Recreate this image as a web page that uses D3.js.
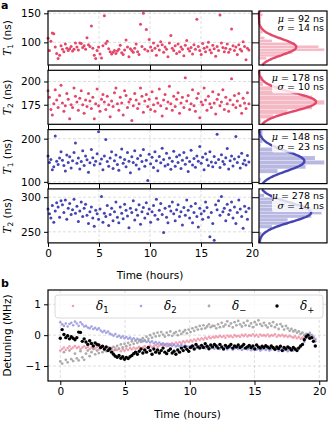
<!DOCTYPE html>
<html>
<head>
<meta charset="utf-8">
<script src="https://cdn.jsdelivr.net/npm/d3@7"></script>
<style>
  body { margin: 0; background: #fff; }
  svg { display: block; font-family: "DejaVu Sans", sans-serif; }
  .math { font-family: "DejaVu Serif", serif; font-style: italic; }
</style>
</head>
<body>
<div id="chart"></div>
<script>
// measurement every ~8.5 minutes, 140 samples
const sampleStepHours = 0.1417;

// panel a: coherence times (ns)
const t1Red = [107,86,102,116,115,92,81,72,78,94,88,84,97,90,86,89,93,85,88,99,
  92,87,99,98,91,94,88,108,96,93,128,90,78,72,86,92,80,73,94,146,
  98,102,89,84,80,83,86,81,85,88,95,82,79,87,104,92,75,89,86,83,
  90,97,84,79,131,93,150,88,122,85,105,92,86,99,90,78,94,87,101,96,
  83,92,88,75,99,112,90,86,94,81,97,84,92,88,77,95,103,89,85,91,
  80,96,88,140,93,86,79,98,90,84,92,100,87,82,95,89,76,93,86,147,
  99,91,84,90,97,83,88,123,94,86,92,79,96,88,85,101,93,70,90,87];
const t2Red = [190,183,170,164,176,191,180,172,185,196,177,168,174,187,181,160,175,172,193,184,
  178,169,182,190,175,166,180,173,187,179,171,183,160,176,192,174,168,181,186,178,
  170,184,175,162,179,173,188,193,176,169,183,177,164,190,185,172,178,181,158,174,
  187,180,171,176,193,184,167,179,186,173,181,170,189,175,168,182,177,192,174,163,
  180,186,171,178,195,176,169,184,173,181,188,166,177,183,172,204,179,185,170,176,
  191,174,168,182,187,161,178,175,193,180,169,184,176,172,189,177,165,181,186,174,
  178,191,170,183,176,168,180,203,175,185,172,179,187,174,166,182,177,171,188,176];
const t1Blue = [160,145,152,128,135,206,148,140,155,170,150,138,125,162,145,158,132,149,168,190,
  143,155,130,147,172,138,160,151,122,144,175,156,139,148,165,216,142,153,128,160,
  198,147,136,155,170,131,149,162,140,127,157,176,143,152,135,168,148,121,158,145,
  172,139,154,130,161,147,175,136,150,103,164,142,157,133,170,149,126,159,144,178,
  152,137,166,140,155,129,148,171,136,158,145,162,131,150,168,141,156,124,147,173,
  139,154,134,160,148,182,143,157,128,165,151,138,170,146,135,159,144,210,152,133,
  163,147,141,156,177,130,149,160,137,153,205,145,158,132,166,142,150,139,161,146];
const t2Blue = [283,276,270,288,264,280,292,286,271,295,289,278,296,268,284,291,275,282,297,277,
  287,265,280,293,272,284,290,274,262,279,286,270,258,281,276,268,283,301,264,277,
  272,288,259,275,284,266,279,293,271,263,286,277,269,290,281,273,256,284,278,295,
  267,282,274,289,261,279,285,270,292,276,283,264,279,288,274,297,268,281,291,275,
  249,284,271,263,287,280,293,276,266,282,289,272,279,260,285,274,296,281,270,287,
  263,278,291,272,257,284,276,268,280,293,285,271,243,278,262,238,289,282,295,274,
  301,279,284,266,290,275,281,293,270,286,262,278,296,283,272,255,287,279,268,284];

// fitted gaussian parameters (ns)
const fitMu = [92, 178, 148, 278];
const fitSigma = [14, 10, 23, 14];

const panelDomains = [[61, 154], [154, 212], [96, 221], [234, 312]];
const panelTicks = [[100, 150], [175, 200], [100, 200], [250, 300]];
const panelLabels = ["1", "2", "1", "2"];
const timeTicks = [0, 5, 10, 15, 20];

// panel b: detuning (MHz)
const delta1 = [-0.5,-0.45,-0.4,-0.48,-0.42,-0.36,-0.44,-0.4,-0.35,-0.42,-0.38,-0.45,-0.4,-0.36,
  -0.42,-0.38,-0.45,-0.4,-0.35,-0.43,-0.38,-0.46,-0.4,-0.36,-0.44,-0.42,-0.48,-0.4,
  -0.45,-0.5,-0.42,-0.48,-0.44,-0.52,-0.46,-0.5,-0.44,-0.48,-0.42,-0.46,-0.4,-0.44,
  -0.42,-0.38,-0.45,-0.4,-0.36,-0.42,-0.38,-0.34,-0.4,-0.36,-0.32,-0.38,-0.34,-0.3,
  -0.34,-0.3,-0.36,-0.28,-0.32,-0.26,-0.3,-0.24,-0.28,-0.22,-0.26,-0.2,-0.24,-0.18,
  -0.22,-0.16,-0.2,-0.14,-0.18,-0.12,-0.16,-0.1,-0.14,-0.08,-0.12,-0.06,-0.1,-0.05,
  -0.08,-0.04,-0.07,-0.02,-0.06,-0.03,-0.08,-0.01,-0.05,-0.02,-0.07,0.0,-0.04,-0.02,
  -0.05,0.01,-0.03,0.02,-0.04,0.0,-0.02,0.03,-0.03,0.01,-0.05,0.02,-0.02,0.0,
  -0.03,0.02,-0.04,0.0,-0.02,0.03,-0.05,0.0,-0.03,0.01,-0.04,-0.01,-0.06,-0.02,
  -0.05,-0.08,-0.04,-0.1,-0.06,-0.12,-0.08,-0.1,-0.05,-0.02,0.0,-0.05,-0.08,-0.12];
const delta2 = [0.42,0.35,0.3,0.38,0.28,0.36,0.4,0.32,0.44,0.38,0.3,0.42,0.35,0.28,
  0.3,0.25,0.22,0.28,0.2,0.24,0.18,0.22,0.15,0.1,0.14,0.08,0.12,0.05,
  0.02,-0.02,0.04,-0.05,-0.02,-0.08,-0.04,-0.1,-0.06,-0.12,-0.08,-0.14,-0.1,-0.16,
  -0.12,-0.18,-0.15,-0.2,-0.17,-0.22,-0.19,-0.24,-0.2,-0.26,-0.22,-0.28,-0.24,-0.3,
  -0.26,-0.32,-0.28,-0.34,-0.3,-0.35,-0.31,-0.37,-0.33,-0.36,-0.32,-0.38,-0.34,-0.36,
  -0.38,-0.35,-0.4,-0.36,-0.42,-0.38,-0.35,-0.41,-0.37,-0.43,-0.39,-0.36,-0.42,-0.4,
  -0.44,-0.4,-0.38,-0.45,-0.41,-0.43,-0.39,-0.46,-0.42,-0.4,-0.47,-0.43,-0.41,-0.45,
  -0.42,-0.48,-0.44,-0.4,-0.46,-0.43,-0.49,-0.45,-0.42,-0.47,-0.44,-0.5,-0.46,-0.43,
  -0.48,-0.44,-0.5,-0.46,-0.42,-0.48,-0.45,-0.51,-0.47,-0.44,-0.49,-0.46,-0.52,-0.48,
  -0.45,-0.5,-0.47,-0.44,-0.4,-0.36,-0.3,-0.22,-0.1,0.02,0.08,0.0,-0.05,-0.15];
const deltaMinus = [-0.85,-0.92,-0.55,-0.8,-0.88,-0.5,-0.78,-0.84,-0.6,-0.75,-0.82,-0.52,-0.72,-0.8,
  -0.6,-0.5,-0.68,-0.55,-0.45,-0.62,-0.5,-0.58,-0.42,-0.55,-0.48,-0.52,-0.4,-0.5,
  -0.42,-0.38,-0.48,-0.35,-0.44,-0.3,-0.4,-0.28,-0.36,-0.25,-0.32,-0.2,-0.28,-0.18,
  -0.25,-0.15,-0.22,-0.1,-0.18,-0.05,-0.12,0.0,-0.08,0.05,-0.04,0.08,-0.02,0.1,
  0.02,-0.05,0.08,0.0,0.12,-0.02,0.06,0.1,0.0,0.14,0.04,0.1,0.16,0.06,
  0.18,0.1,0.22,0.14,0.26,0.18,0.3,0.2,0.32,0.22,0.28,0.35,0.26,0.3,
  0.3,0.22,0.35,0.26,0.4,0.28,0.34,0.45,0.3,0.38,0.25,0.42,0.32,0.46,
  0.35,0.28,0.4,0.32,0.46,0.3,0.38,0.26,0.42,0.34,0.48,0.36,0.3,0.4,
  0.32,0.25,0.38,0.3,0.42,0.26,0.34,0.2,0.36,0.28,0.18,0.3,0.22,0.14,
  0.2,0.12,0.16,0.08,0.12,0.04,0.08,0.0,0.04,-0.05,-0.08,0.0,-0.12,-0.2];
const deltaPlus = [-0.1,0.18,0.02,-0.08,-0.02,-0.12,-0.05,
  -0.1,-0.15,-0.08,0.1,0.09,-0.2,-0.12,
  -0.22,-0.3,-0.18,-0.27,-0.35,-0.25,-0.3,
  -0.32,-0.4,-0.36,-0.45,-0.38,-0.5,-0.44,
  -0.55,-0.62,-0.68,-0.72,-0.66,-0.75,-0.7,
  -0.78,-0.72,-0.76,-0.7,-0.66,-0.6,-0.55,
  -0.62,-0.52,-0.45,-0.58,-0.48,-0.55,-0.4,
  -0.5,-0.62,-0.45,-0.55,-0.48,-0.58,-0.5,
  -0.42,-0.55,-0.6,-0.5,-0.45,-0.58,-0.52,-0.62,
  -0.48,-0.55,-0.42,-0.5,-0.38,-0.46,-0.52,
  -0.4,-0.35,-0.45,-0.3,-0.38,-0.42,-0.33,-0.4,-0.28,-0.36,-0.44,-0.32,-0.38,-0.3,
  -0.35,-0.42,-0.3,-0.38,-0.45,-0.33,-0.4,-0.36,-0.3,-0.42,-0.35,-0.38,-0.32,-0.4,
  -0.36,-0.3,-0.42,-0.38,-0.33,-0.4,-0.35,-0.45,-0.32,-0.38,-0.42,-0.36,-0.4,-0.34,
  -0.38,-0.42,-0.35,-0.4,-0.46,-0.38,-0.43,-0.36,-0.5,-0.4,-0.45,-0.38,-0.42,-0.48,
  -0.4,-0.45,-0.5,-0.42,-0.35,-0.3,-0.15,-0.05,0.0,-0.1,-0.08,-0.2,-0.35];
const detuningTicks = [-1, 0, 1];
const legendSubs = ["1", "2", "\u2212", "+"];

const red = "#e4476a", blue = "#4545b2";
const W = 328, H = 422;

const svg = d3.select("#chart").append("svg")
  .attr("width", W).attr("height", H)
  .attr("viewBox", [0, 0, W, H]);

const gridStyle = s => s.attr("stroke", "#d6d6d6").attr("stroke-width", 0.8).attr("stroke-dasharray", "3,2");

// ---------- panel a ----------
const ax0 = 48, ax1 = 252, hx0 = 259, hx1 = 327;
const rowTop = [11, 70.3, 129.6, 188.9], rowH = 54, gap = 5.3;
const xa = d3.scaleLinear().domain([0, 20]).range([ax0, ax1]);
const series = [t1Red, t2Red, t1Blue, t2Blue];
const colors = [red, red, blue, blue];

series.forEach((vals, k) => {
  const top = rowTop[k], bot = top + rowH;
  const y = d3.scaleLinear().domain(panelDomains[k]).range([bot, top]);
  const g = svg.append("g");
  const col = colors[k];

  // grid
  g.selectAll(".gx").data(timeTicks.slice(1, -1)).join("line")
    .attr("x1", d => xa(d)).attr("x2", d => xa(d)).attr("y1", top).attr("y2", bot).call(gridStyle);
  g.selectAll(".gy").data(panelTicks[k]).join("line")
    .attr("x1", ax0).attr("x2", ax1).attr("y1", d => y(d)).attr("y2", d => y(d)).call(gridStyle);

  // points
  g.append("g").selectAll("circle").data(vals).join("circle")
    .attr("cx", (d, i) => xa(i * sampleStepHours))
    .attr("cy", d => y(d))
    .attr("r", 1.5)
    .attr("fill", col);

  // frame
  g.append("rect").attr("x", ax0).attr("y", top).attr("width", ax1 - ax0).attr("height", rowH)
    .attr("fill", "none").attr("stroke", "#000").attr("stroke-width", 1.2);

  // y axis
  const yAxis = g.append("g").attr("transform", `translate(${ax0},0)`)
    .call(d3.axisLeft(y).tickValues(panelTicks[k]).tickSize(4).tickPadding(3));
  yAxis.select(".domain").remove();
  yAxis.selectAll("text").attr("font-size", 10.5).attr("font-family", "DejaVu Sans");

  // x ticks (bottom)
  const xAxis = g.append("g").attr("transform", `translate(0,${bot})`)
    .call(d3.axisBottom(xa).tickValues(timeTicks).tickSize(k < 3 ? gap : 4).tickPadding(3));
  xAxis.select(".domain").remove();
  if (k < 3) xAxis.selectAll("text").remove();
  else xAxis.selectAll("text").attr("font-size", 10.5).attr("font-family", "DejaVu Sans");

  // y label
  const lab = g.append("text")
    .attr("transform", `translate(10.5,${(top + bot) / 2}) rotate(-90)`)
    .attr("text-anchor", "middle").attr("font-size", 10.5);
  lab.append("tspan").attr("class", "math").text("T");
  lab.append("tspan").attr("font-size", 7.5).attr("dy", 2.5).text(panelLabels[k]);
  lab.append("tspan").attr("dy", -2.5).text(" (ns)");

  // ---- histogram ----
  const bins = d3.bin().domain(panelDomains[k]).thresholds(16)(vals);
  const dens = b => b.length / (vals.length * (b.x1 - b.x0));
  const peak = 1 / (fitSigma[k] * Math.sqrt(2 * Math.PI));
  const xh = d3.scaleLinear()
    .domain([0, Math.max(d3.max(bins, dens), peak) * 1.04])
    .range([hx0, hx1]);
  const hg = svg.append("g");
  hg.selectAll("rect").data(bins).join("rect")
    .attr("x", hx0).attr("y", d => y(d.x1))
    .attr("width", d => xh(dens(d)) - hx0)
    .attr("height", d => y(d.x0) - y(d.x1))
    .attr("fill", col).attr("fill-opacity", 0.38)
    .attr("stroke", "#fff").attr("stroke-width", 0.3);

  const curveVals = d3.range(panelDomains[k][0], panelDomains[k][1], (panelDomains[k][1] - panelDomains[k][0]) / 120);
  const line = d3.line()
    .x(v => xh(Math.exp(-0.5 * ((v - fitMu[k]) / fitSigma[k]) ** 2) / (fitSigma[k] * Math.sqrt(2 * Math.PI))))
    .y(v => y(v));
  hg.append("path").datum(curveVals).attr("d", line)
    .attr("fill", "none").attr("stroke", col).attr("stroke-width", 2.4);

  // stats box
  hg.append("rect").attr("x", hx0 + 13).attr("y", top + 2).attr("width", hx1 - hx0 - 15).attr("height", 21)
    .attr("rx", 2).attr("fill", "#fff").attr("fill-opacity", 0.8);
  const stats = [["\u03bc", fitMu[k]], ["\u03c3", fitSigma[k]]];
  stats.forEach((s, j) => {
    const tx = hg.append("text").attr("x", hx1 - 3).attr("y", top + 10.5 + j * 9.5)
      .attr("text-anchor", "end").attr("font-size", 9.5);
    tx.append("tspan").attr("class", "math").text(s[0]);
    tx.append("tspan").text(` = ${s[1]} ns`);
  });

  hg.append("rect").attr("x", hx0).attr("y", top).attr("width", hx1 - hx0).attr("height", rowH)
    .attr("fill", "none").attr("stroke", "#000").attr("stroke-width", 1.2);
  const hAxis = hg.append("g").attr("transform", `translate(${hx0},0)`)
    .call(d3.axisLeft(y).tickValues(panelTicks[k]).tickSize(hx0 - ax1).tickFormat(""));
  hAxis.select(".domain").remove();
});

svg.append("text").attr("x", (ax0 + ax1) / 2).attr("y", 279).attr("text-anchor", "middle")
  .attr("font-size", 10.5).text("Time (hours)");
svg.append("text").attr("x", 1).attr("y", 9).attr("font-size", 11).attr("font-weight", "bold").text("a");

// ---------- panel b ----------
const bx0 = 48, bx1 = 327, by0 = 290, by1 = 381;
const xb = d3.scaleLinear().domain([-0.95, 20.6]).range([bx0, bx1]);
const yb = d3.scaleLinear().domain([-1.486, 1.464]).range([by1, by0]);
const gb = svg.append("g");

gb.selectAll(".gx").data(timeTicks).join("line")
  .attr("x1", d => xb(d)).attr("x2", d => xb(d)).attr("y1", by0).attr("y2", by1).call(gridStyle);
gb.selectAll(".gy").data(detuningTicks).join("line")
  .attr("x1", bx0).attr("x2", bx1).attr("y1", d => yb(d)).attr("y2", d => yb(d)).call(gridStyle);

const detSeries = [
  { vals: delta1, color: "#f08ba2", r: 1.3, op: 0.8 },
  { vals: delta2, color: "#8d8ddc", r: 1.3, op: 0.8 },
  { vals: deltaMinus, color: "#a3a3a3", r: 1.4, op: 0.9 },
  { vals: deltaPlus, color: "#000", r: 1.7, op: 1 }
];
detSeries.forEach(s => {
  gb.append("g").selectAll("circle").data(s.vals).join("circle")
    .attr("cx", (d, i) => xb(i * sampleStepHours))
    .attr("cy", d => yb(d))
    .attr("r", s.r).attr("fill", s.color).attr("fill-opacity", s.op);
});

// legend
gb.append("rect").attr("x", 55).attr("y", 295).attr("width", 268).attr("height", 23).attr("rx", 3)
  .attr("fill", "#fff").attr("fill-opacity", 0.8).attr("stroke", "#d0d0d0").attr("stroke-width", 0.8);
detSeries.forEach((s, i) => {
  const mx = 73 + i * 68;
  gb.append("circle").attr("cx", mx).attr("cy", 306).attr("r", s.r).attr("fill", s.color).attr("fill-opacity", s.op);
  const t = gb.append("text").attr("x", mx + 23).attr("y", 310).attr("font-size", 12);
  t.append("tspan").attr("class", "math").text("\u03b4");
  t.append("tspan").attr("font-size", 8.5).attr("dy", 2.5).text(legendSubs[i]);
});

gb.append("rect").attr("x", bx0).attr("y", by0).attr("width", bx1 - bx0).attr("height", by1 - by0)
  .attr("fill", "none").attr("stroke", "#000").attr("stroke-width", 1.2);
const byAxis = gb.append("g").attr("transform", `translate(${bx0},0)`)
  .call(d3.axisLeft(yb).tickValues(detuningTicks).tickSize(4).tickPadding(3).tickFormat(d => d < 0 ? "\u2212" + Math.abs(d) : d));
byAxis.select(".domain").remove();
byAxis.selectAll("text").attr("font-size", 10.5).attr("font-family", "DejaVu Sans");
const bxAxis = gb.append("g").attr("transform", `translate(0,${by1})`)
  .call(d3.axisBottom(xb).tickValues(timeTicks).tickSize(4).tickPadding(3));
bxAxis.select(".domain").remove();
bxAxis.selectAll("text").attr("font-size", 10.5).attr("font-family", "DejaVu Sans");

svg.append("text").attr("x", (bx0 + bx1) / 2).attr("y", 418).attr("text-anchor", "middle")
  .attr("font-size", 10.5).text("Time (hours)");
svg.append("text").attr("transform", `translate(11,${(by0 + by1) / 2}) rotate(-90)`)
  .attr("text-anchor", "middle").attr("font-size", 10.5).text("Detuning (MHz)");
svg.append("text").attr("x", 1).attr("y", 287).attr("font-size", 11).attr("font-weight", "bold").text("b");
</script>
</body>
</html>
